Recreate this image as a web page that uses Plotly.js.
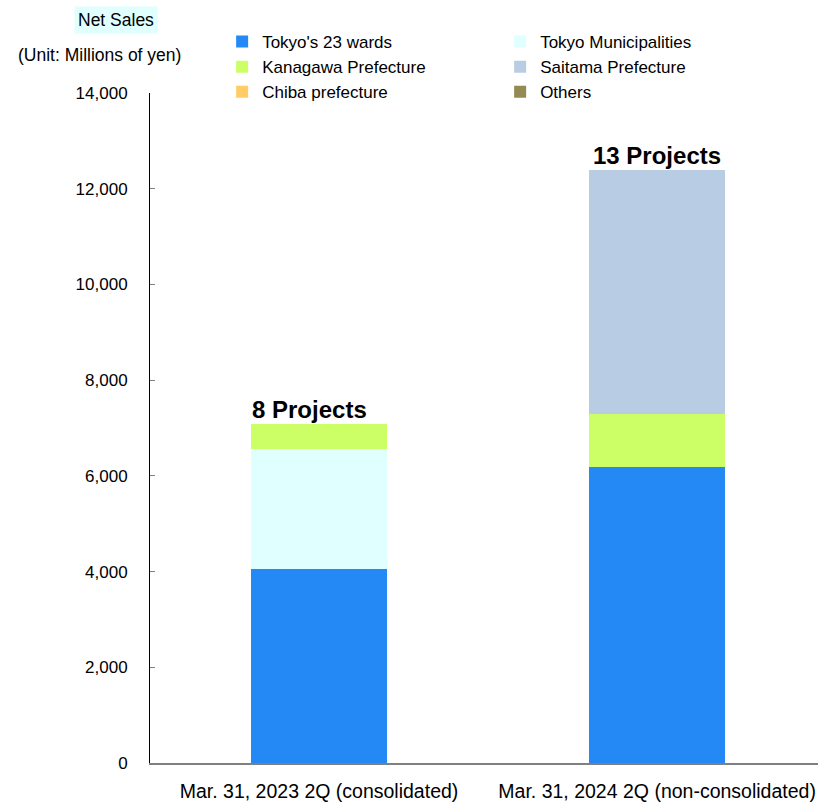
<!DOCTYPE html>
<html>
<head>
<meta charset="utf-8">
<script src="https://cdn.plot.ly/plotly-3.0.1.min.js"></script>
<style>html,body{margin:0;padding:0;background:#fff;}#chart{width:818px;height:805px;}</style>
</head>
<body>
<div id="chart"></div>
<script>
const categories = ["Mar. 31, 2023 2Q (consolidated)", "Mar. 31, 2024 2Q (non-consolidated)"];
const seriesNames = ["Tokyo's 23 wards", "Tokyo Municipalities", "Kanagawa Prefecture", "Saitama Prefecture", "Chiba prefecture", "Others"];
const tokyo23 = [4060, 6190];
const tokyoMuni = [2510, 0];
const kanagawa = [510, 1100];
const saitama = [0, 5100];
const chiba = [0, 0];
const others = [0, 0];
const projectLabels = ["8 Projects", "13 Projects"];
const colors = ["#2589F5", "#E0FFFF", "#CCFF66", "#B8CCE4", "#FFCC66", "#948A54"];
const yTicks = [0, 2000, 4000, 6000, 8000, 10000, 12000, 14000];

const FONT = "'Liberation Sans', Arial, sans-serif";
const values = [tokyo23, tokyoMuni, kanagawa, saitama, chiba, others];
const traces = values.map((v, i) => ({
  type: "bar",
  name: seriesNames[i],
  x: [0, 1],
  y: v,
  width: 0.4,
  marker: {color: colors[i], line: {width: 0}},
  hoverinfo: "name+y"
}));
const totals = categories.map((_, j) => values.reduce((s, v) => s + v[j], 0));

const layout = {
  width: 818, height: 805,
  margin: {l: 150, r: 0, t: 93, b: 42},
  barmode: "stack",
  bargap: 0,
  paper_bgcolor: "#fff", plot_bgcolor: "#fff",
  font: {family: FONT, color: "#000", size: 17},
  showlegend: true,
  legend: {
    orientation: "h",
    x: 0.108, xanchor: "left",
    y: 1.103, yanchor: "top",
    entrywidth: 233, entrywidthmode: "pixels",
    font: {family: FONT, size: 17, color: "#000"},
    traceorder: "normal",
    itemwidth: 30,
    bgcolor: "rgba(0,0,0,0)"
  },
  xaxis: {
    range: [-0.5, 1.476],
    tickmode: "array", tickvals: [0, 1], ticktext: categories,
    ticks: "", showline: true, linecolor: "#808080", linewidth: 2,
    showgrid: false, zeroline: false,
    tickfont: {family: FONT, size: 19.5, color: "#000"},
    ticklabelstandoff: 10,
    ticklabeloverflow: "allow"
  },
  yaxis: {
    range: [0, 14000],
    tickmode: "array", tickvals: yTicks,
    ticktext: yTicks.map(v => v.toLocaleString("en-US")),
    ticks: "inside", ticklen: 5, tickcolor: "#808080", tickwidth: 1,
    showline: true, linecolor: "#000", linewidth: 1,
    showgrid: false, zeroline: false,
    tickfont: {family: FONT, size: 17, color: "#000"},
    ticklabelstandoff: 18
  },
  annotations: [
    ...projectLabels.map((t, j) => ({
      x: j, y: totals[j], xref: "x", yref: "y",
      text: "<b>" + t + "</b>", showarrow: false,
      yanchor: "bottom", yshift: -1, xshift: j === 0 ? -10 : 0,
      font: {family: FONT, size: 24, color: "#000"}
    })),
    {x: -0.051, y: 1.109, xref: "paper", yref: "paper", xanchor: "center", yanchor: "middle",
     text: "Net Sales", showarrow: false,
     bgcolor: "#E0FFFF", font: {family: FONT, size: 17.5, color: "#000"}, borderpad: 3},
    {x: -0.075, y: 1.057, xref: "paper", yref: "paper", xanchor: "center", yanchor: "middle",
     text: "(Unit: Millions of yen)", showarrow: false,
     font: {family: FONT, size: 17.5, color: "#000"}}
  ]
};

Plotly.newPlot("chart", traces, layout, {displayModeBar: false, staticPlot: true});
</script>
</body>
</html>
